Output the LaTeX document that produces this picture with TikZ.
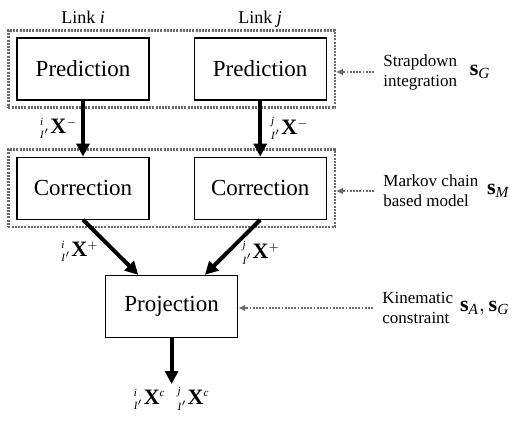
\documentclass[tikz,border=0pt]{standalone}
\usepackage{amsmath}
\usepackage{fontspec}
\setmainfont{Liberation Serif}
\usepackage{tikz}
\usetikzlibrary{positioning, arrows.meta, fit, calc}
\definecolor{dotgray}{rgb}{0.42,0.42,0.42}
\tikzstyle{blk}=[%
      rectangle, draw=black, line width=0.6pt, fill=none,
      minimum height=31pt, minimum width=66pt, inner sep=0pt,
      font=\fontsize{11.5}{13}\selectfont
]
\tikzstyle{grp}=[%
      rectangle, draw=dotgray, line width=1.15pt, dash pattern=on 1pt off 0.6pt,
      inner xsep=4pt, inner ysep=3.5pt
]
\tikzstyle{flow}=[%
      line width=2pt, -{Triangle[length=6.5pt,width=6.5pt]}
]
\tikzstyle{hint}=[%
      dotgray, line width=0.9pt, dash pattern=on 0.9pt off 0.7pt,
      -{Latex[length=3.5pt,width=3.5pt]}
]
\tikzstyle{side}=[%
      align=left, inner sep=0pt, anchor=west, font=\fontsize{8.5}{10}\selectfont
]
\tikzstyle{lbl}=[font=\fontsize{11}{13}\selectfont, inner sep=1.5pt]
\tikzstyle{lnk}=[font=\fontsize{9}{11}\selectfont, text depth=0.25em, inner sep=0pt]
\newcommand{\frX}[2]{${}^{\scriptscriptstyle\textit{#1}}_{\scriptscriptstyle\textit{I}'}\textbf{X}^{\scriptscriptstyle #2}$}

\begin{document}
\begin{tikzpicture}[x=0.5pt, y=-0.5pt]
    \useasboundingbox (0,0) rectangle (517,421);

    \node[blk] (pred1) at (83,69) {Prediction};
    \node[blk] (pred2) [right = 22pt of pred1] {Prediction};
    \node[blk] (corr1) [below = 28pt of pred1] {Correction};
    \node[blk] (corr2) [below = 28pt of pred2] {Correction};
    \coordinate (mid) at ($(corr1.south)!0.5!(corr2.south)$);
    \node[blk] (proj) [below = 27.5pt of mid] {Projection};
    \node[lbl] (fused) [below = 23pt of proj] {\frX{i}{\textit{c}}\hspace{6pt}\frX{j}{\textit{c}}};

    \node[lnk] (linki) [above = 4pt of pred1] {Link \textit{i}};
    \node[lnk] (linkj) [above = 4pt of pred2] {Link \textit{j}};

    % groups
    \node[grp, fit=(pred1)(pred2)] (sdgrp) {};
    \node[grp, fit=(corr1)(corr2)] (mcgrp) {};

    % side notes
    \node[side] (sdtext) at (383,72) {Strapdown\\integration};
    \node[lbl, inner sep=0pt] (sG) [right = 6pt of sdtext] {$\textbf{s}_{\textit{G}}$};
    \node[side] (mctext) at (383,191) {Markov chain\\based model};
    \node[lbl, inner sep=0pt] (sM) [right = 4pt of mctext] {$\textbf{s}_{\textit{M}}$};
    \node[side] (kctext) at (382,308) {Kinematic\\constraint};
    \node[lbl, inner sep=0pt] (sAG) [right = 3pt of kctext] {$\textbf{s}_{\textit{A}},\textbf{s}_{\textit{G}}$};

    \draw[flow] (pred1) -- node[lbl, left] {\frX{i}{-}} (corr1);
    \draw[flow] (pred2) -- node[lbl, right, xshift=3pt] {\frX{j}{-}} (corr2);
    \draw[flow] (corr1.south) -- node[lbl, below left, pos=0.3, xshift=2pt] {\frX{i}{+}}
          ($(proj.north west)!0.25!(proj.north east)$);
    \draw[flow] (corr2.south) -- node[lbl, below right, pos=0.3, xshift=-3pt] {\frX{j}{+}}
          ($(proj.north west)!0.75!(proj.north east)$);
    \draw[flow] (proj) -- (fused);

    \draw[hint, shorten <=4.5pt] (sdtext.west) -- (sdtext.west -| sdgrp.east);
    \draw[hint, shorten <=4.5pt] (mctext.west) -- (mctext.west -| mcgrp.east);
    \draw[hint, shorten <=4.5pt] (kctext.west) -- (kctext.west -| proj.east);

\end{tikzpicture}
\end{document}
